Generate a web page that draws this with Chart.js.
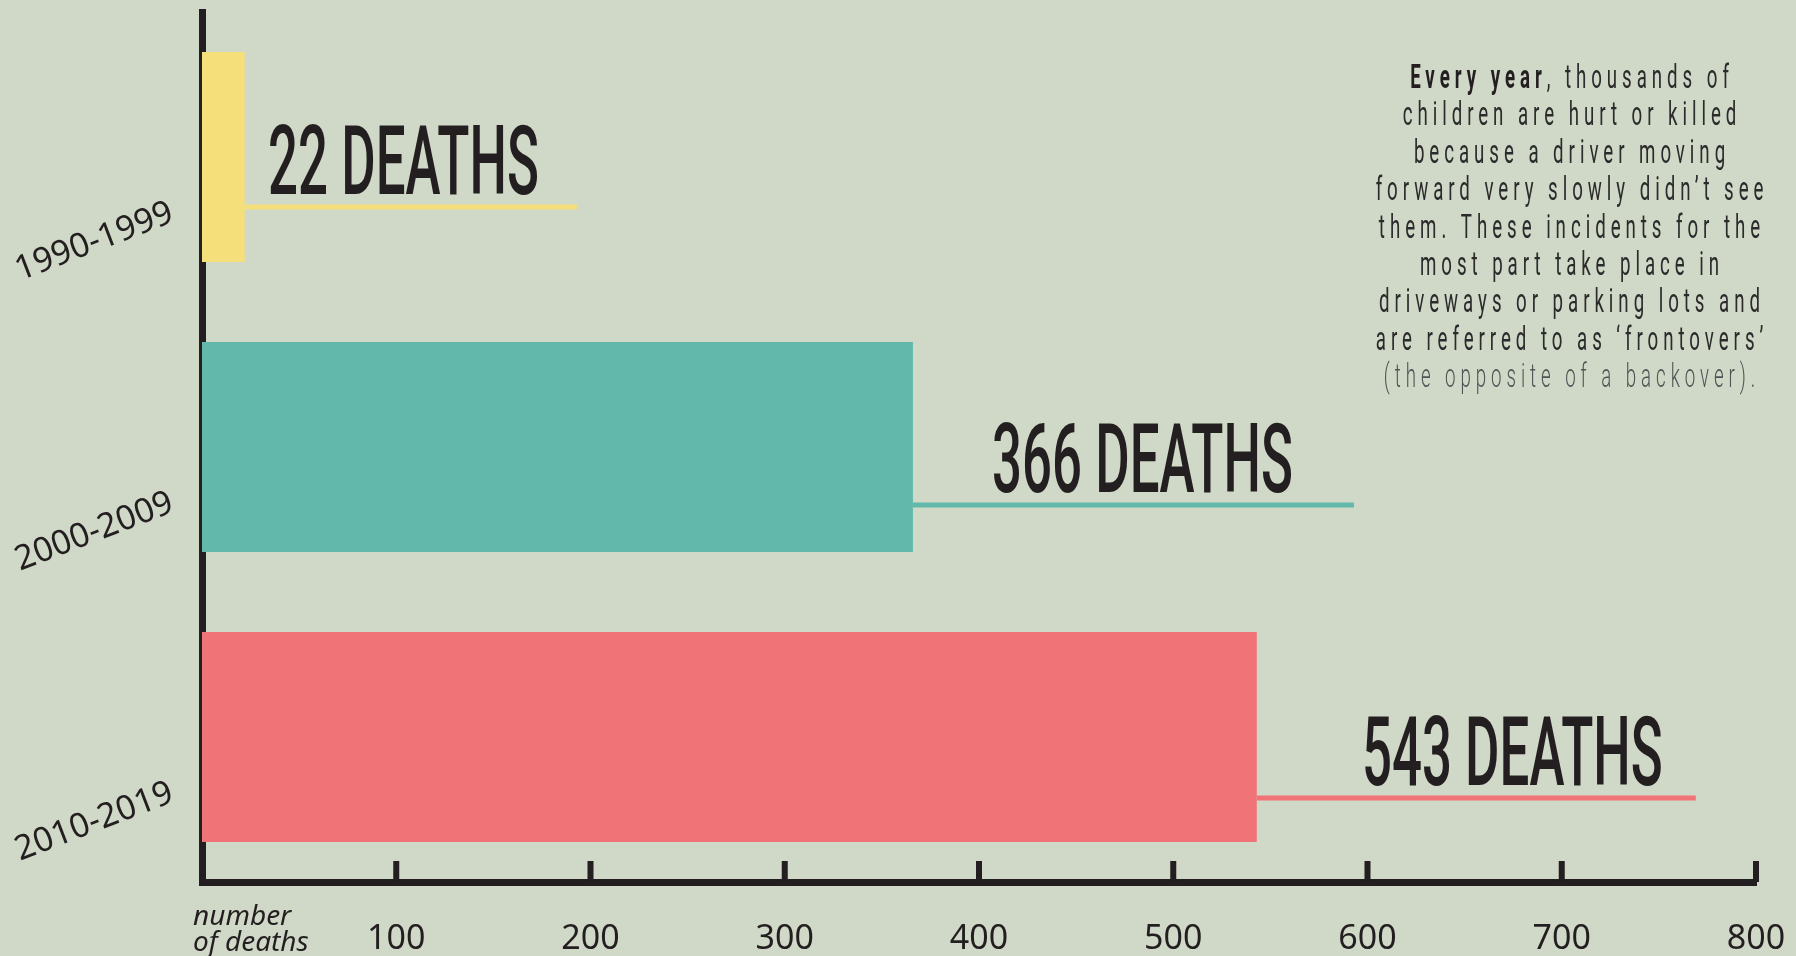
<!DOCTYPE html>
<html>
<head>
<meta charset="utf-8">
<script src="https://cdn.jsdelivr.net/npm/chart.js@4.4.1/dist/chart.umd.min.js"></script>
<style>
  html, body { margin: 0; padding: 0; background: #d0d9c7; }
  canvas { display: block; }
</style>
</head>
<body>
<canvas id="myChart" width="1796" height="956"></canvas>
<script>
// 데이터
const decades = ["1990-1999", "2000-2009", "2010-2019"];
const deaths = [22, 366, 543];
const barColors = ["#f5df7b", "#62b9ab", "#f07377"];
const xMin = 0;
const xMax = 800;
const xStep = 100;
const axisTitle = ["number", "of deaths"];
const noteBold = "Every year";
const noteLines = [
  ", thousands of",
  "children are hurt or killed",
  "because a driver moving",
  "forward very slowly didn\u2019t see",
  "them. These incidents for the",
  "most part take place in",
  "driveways or parking lots and",
  "are referred to as \u2018frontovers\u2019",
  "(the opposite of a backover).",
];

// callout 스타일 (위치 보정용)
const calloutDy = [50, 58, 61];
const calloutEnd = [193, 593, 769];
const textInset = [38, 61, 33];
const ink = "#231f20";

Chart.defaults.font.family = "'Noto Sans', sans-serif";
Chart.defaults.color = ink;

/**
 * 막대 끝에서 뻗는 선 + "N DEATHS" 라벨
 */
const calloutPlugin = {
  id: "callouts",
  afterDatasetsDraw(chart) {
    const ctx = chart.ctx;
    const xScale = chart.scales.x;
    const meta = chart.getDatasetMeta(0);
    meta.data.forEach((bar, i) => {
      const y = bar.y + calloutDy[i];
      const end = xScale.getPixelForValue(calloutEnd[i]);
      ctx.save();
      ctx.strokeStyle = barColors[i];
      ctx.lineWidth = 5;
      ctx.beginPath();
      ctx.moveTo(bar.x, y);
      ctx.lineTo(end, y);
      ctx.stroke();

      ctx.fillStyle = ink;
      ctx.font = "500 96px Roboto";
      ctx.textAlign = "right";
      ctx.textBaseline = "alphabetic";
      ctx.translate(end - textInset[i], y - 13);
      ctx.scale(0.55, 1);
      ctx.fillText(`${deaths[i]} DEATHS`, 0, 0);
      ctx.restore();
    });
  },
};

/**
 * x축 눈금(위쪽), 축 제목, 오른쪽 설명 문구
 */
const extrasPlugin = {
  id: "extras",
  afterDraw(chart) {
    const ctx = chart.ctx;
    const xScale = chart.scales.x;
    const bottom = chart.chartArea.bottom;

    // 눈금
    ctx.save();
    ctx.fillStyle = ink;
    for (let v = xMin + xStep; v <= xMax; v += xStep) {
      const px = xScale.getPixelForValue(v);
      ctx.fillRect(px - 3, bottom - 21, 6, 21);
    }
    ctx.restore();

    // 축 제목
    ctx.save();
    ctx.fillStyle = ink;
    ctx.font = "italic 28px 'Noto Sans'";
    ctx.textAlign = "left";
    ctx.textBaseline = "alphabetic";
    ctx.fillText(axisTitle[0], 193, 925);
    ctx.fillText(axisTitle[1], 193, 951);
    ctx.restore();

    // 설명 문구
    const cx = 1572;
    const sx = 0.55;
    const lineGap = 37.4;
    ctx.save();
    ctx.textBaseline = "alphabetic";
    ctx.letterSpacing = "9px";
    noteLines.forEach((line, i) => {
      ctx.save();
      ctx.translate(cx, 88 + i * lineGap);
      ctx.scale(sx, 1);
      ctx.textAlign = "left";
      if (i === 0) {
        ctx.font = "700 34px Roboto";
        const wb = ctx.measureText(noteBold).width;
        ctx.font = "400 34px Roboto";
        const wr = ctx.measureText(line).width;
        const start = -(wb + wr) / 2;
        ctx.fillStyle = ink;
        ctx.font = "700 34px Roboto";
        ctx.fillText(noteBold, start, 0);
        ctx.fillStyle = "#2b2b2b";
        ctx.font = "400 34px Roboto";
        ctx.fillText(line, start + wb, 0);
      } else {
        ctx.fillStyle = i === noteLines.length - 1 ? "#505354" : "#2b2b2b";
        ctx.font = (i === noteLines.length - 1 ? "300" : "400") + " 34px Roboto";
        const w = ctx.measureText(line).width;
        ctx.fillText(line, -w / 2, 0);
      }
      ctx.restore();
    });
    ctx.restore();
  },
};

const ctx = document.getElementById("myChart").getContext("2d");
new Chart(ctx, {
  type: "bar",
  data: {
    labels: decades,
    datasets: [
      {
        data: deaths,
        backgroundColor: barColors,
        borderWidth: 0,
        categoryPercentage: 1,
        barPercentage: 0.724,
      },
    ],
  },
  options: {
    indexAxis: "y",
    responsive: false,
    animation: false,
    devicePixelRatio: 1,
    layout: { padding: { top: 12, right: 40, left: 0, bottom: 0 } },
    plugins: {
      legend: { display: false },
      tooltip: { enabled: false },
    },
    scales: {
      x: {
        min: xMin,
        max: xMax,
        grid: { display: false, drawTicks: false },
        border: { display: true, width: 7, color: ink },
        ticks: {
          stepSize: xStep,
          padding: 37,
          font: { size: 34 },
          color: ink,
          callback: (v) => (v === 0 ? "" : v),
        },
        afterFit: (s) => {
          s.height = 74;
          s.paddingLeft = 0;
          s.paddingRight = 0;
        },
      },
      y: {
        z: 1,
        grid: { display: false, drawTicks: false },
        border: { display: true, width: 7, color: ink },
        ticks: {
          padding: 30,
          minRotation: 21,
          maxRotation: 21,
          labelOffset: 55,
          font: { size: 34 },
          color: ink,
        },
        afterFit: (s) => {
          s.width = 202;
          s.paddingTop = 0;
          s.paddingBottom = 0;
        },
      },
    },
  },
  plugins: [calloutPlugin, extrasPlugin],
});
</script>
</body>
</html>
